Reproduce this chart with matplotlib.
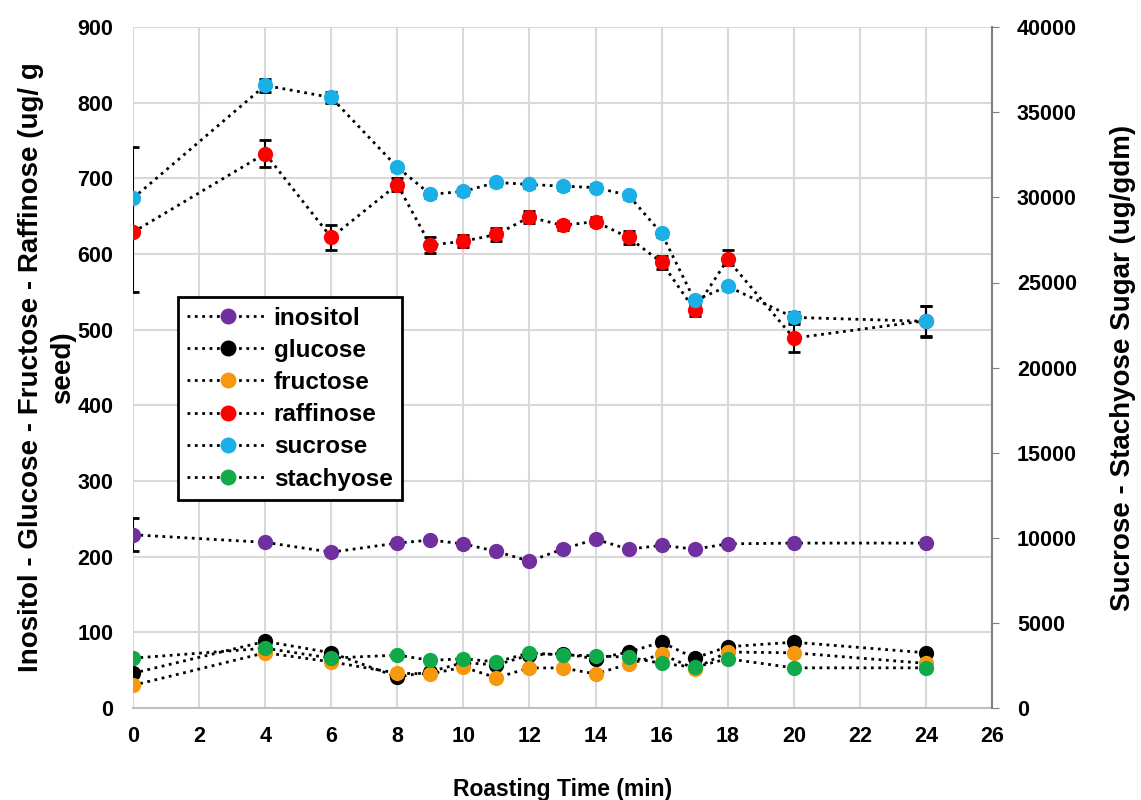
import matplotlib.pyplot as plt
from matplotlib.lines import Line2D

plt.rcParams["font.family"] = ["Liberation Sans", "DejaVu Sans"]
plt.rcParams["font.weight"] = "bold"

time = [0, 4, 6, 8, 9, 10, 11, 12, 13, 14, 15, 16, 17, 18, 20, 24]

# left axis (ug/g seed)
inositol = [229, 219, 206, 218, 222, 217, 207, 194, 210, 223, 210, 215, 210, 217, 218, 218]
glucose = [46, 88, 73, 41, 48, 60, 57, 70, 72, 65, 74, 87, 66, 81, 87, 73]
fructose = [30, 73, 61, 46, 45, 54, 40, 53, 53, 45, 58, 71, 52, 74, 73, 59]
raffinose = [629, 733, 622, 692, 612, 617, 626, 649, 638, 643, 622, 589, 526, 593, 489, 512]

# right axis (ug/gdm)
sucrose = [29950, 36580, 35870, 31770, 30180, 30350, 30880, 30760, 30660, 30580, 30120,
           27880, 23950, 24770, 22950, 22720]
stachyose = [2930, 3510, 2930, 3110, 2800, 2890, 2710, 3240, 3110, 3070, 2980, 2620,
             2400, 2890, 2360, 2360]

# standard deviations
inositol_err = [22, 3, 3, 3, 3, 3, 3, 3, 3, 3, 3, 3, 3, 3, 3, 3]
small_err = [4] * len(time)
raffinose_err = [[79, 18, 16, 8, 10, 8, 8, 8, 6, 6, 8, 8, 8, 8, 18, 20],
                 [112, 18, 16, 8, 10, 8, 8, 8, 6, 6, 8, 8, 8, 12, 18, 20]]
sucrose_err = [150, 400, 300, 200, 200, 200, 200, 200, 200, 200, 200, 200, 200, 200, 300, 900]
stachyose_err = [120] * len(time)

fig = plt.figure(figsize=(11.41, 8), dpi=100)
ax = fig.add_axes([0.1166, 0.115, 0.7528, 0.851])
ax2 = ax.twinx()

style = dict(fmt=":o", color="black", lw=2, ms=11, ecolor="black", elinewidth=1.5,
             capsize=4, capthick=2, mec="none")

handles = []
for axis, vals, err, col, name in [
    (ax, inositol, inositol_err, "#7030A0", "inositol"),
    (ax, glucose, small_err, "#000000", "glucose"),
    (ax, fructose, small_err, "#F7990F", "fructose"),
    (ax, raffinose, raffinose_err, "#FF0000", "raffinose"),
    (ax2, sucrose, sucrose_err, "#1AAFE6", "sucrose"),
    (ax2, stachyose, stachyose_err, "#12A94B", "stachyose"),
]:
    axis.errorbar(time, vals, yerr=err, mfc=col, **style)
    handles.append(Line2D([], [], ls=":", lw=2, color="black", marker="o", ms=11.5,
                          mfc=col, mec="none", label=name))

ax.set_xlim(0, 26)
ax.set_ylim(0, 900)
ax2.set_ylim(0, 40000)
ax.set_xticks(range(0, 27, 2))
ax.set_yticks(range(0, 901, 100))
ax2.set_yticks(range(0, 40001, 5000))

ax.grid(True, color="#d9d9d9", lw=1.5)
ax.set_axisbelow(True)
for sp in ["top", "right", "left", "bottom"]:
    ax.spines[sp].set_visible(False)
    ax2.spines[sp].set_visible(False)
ax2.spines["right"].set_visible(True)
ax2.spines["right"].set_color("#808080")
ax2.spines["right"].set_linewidth(1.5)
ax.spines["bottom"].set_visible(True)
ax.spines["bottom"].set_color("#bfbfbf")
ax.spines["bottom"].set_linewidth(1.5)

ax.tick_params(axis="y", length=0, labelsize=15.5, pad=14)
ax.tick_params(axis="x", length=0, labelsize=15.5, pad=13)
ax2.tick_params(axis="y", length=5, color="#808080", labelsize=15.5, pad=13)

ax.set_xlabel("Roasting Time (min)", fontsize=16.5, fontweight="bold", labelpad=22)
ax.set_ylabel("Inositol - Glucose - Fructose - Raffinose (ug/ g\nseed)",
              fontsize=20, fontweight="bold", labelpad=1, linespacing=1.3)
ax2.set_ylabel("Sucrose - Stachyose Sugar (ug/gdm)", fontsize=20, fontweight="bold",
               labelpad=24)

leg = ax2.legend(handles=handles, loc="upper left", bbox_to_anchor=(0.052, 0.604),
                 borderaxespad=0, fancybox=False, edgecolor="black", framealpha=1,
                 prop={"size": 17.5, "weight": "bold"}, handlelength=3.3,
                 handletextpad=0.25, labelspacing=0.38, borderpad=0.4)
leg.get_frame().set_linewidth(2)

fig.savefig("out.png", dpi=100)
